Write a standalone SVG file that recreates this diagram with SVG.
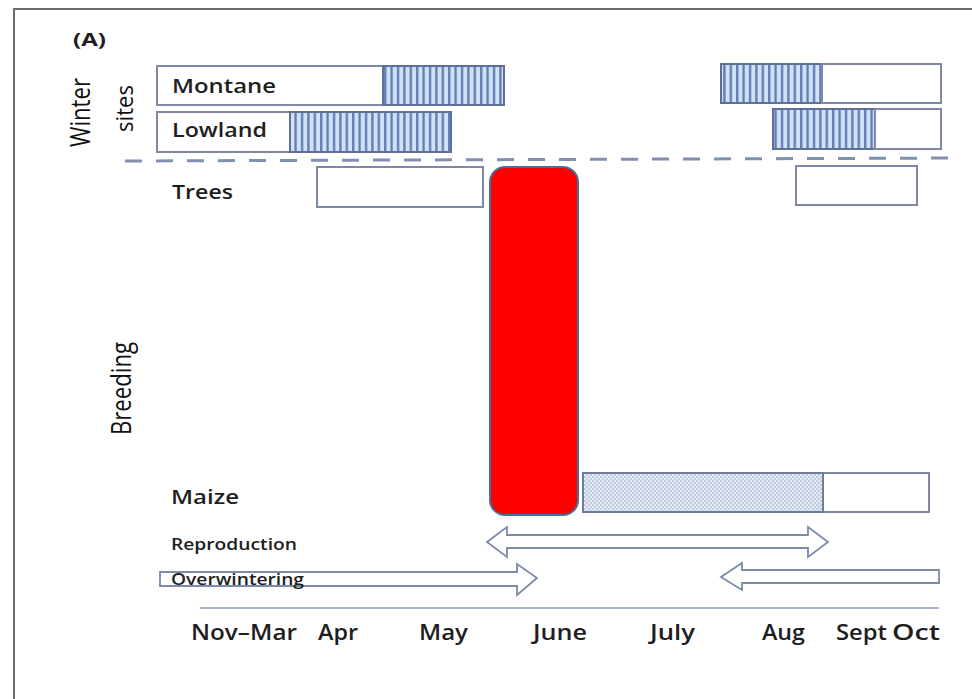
<svg xmlns="http://www.w3.org/2000/svg" width="972" height="699" viewBox="0 0 972 699">
<style>
.box{fill:#fff;stroke:#7f88a4;stroke-width:2}
.str{fill:url(#stripes);stroke:#5f6f98;stroke-width:2}
.dot{fill:url(#dots);stroke:#6f7c9c;stroke-width:2}
.arr{fill:#fff;stroke:#7d8aa8;stroke-width:1.8;stroke-linejoin:miter}
.lbl{font-family:"Open Sans","Liberation Sans",sans-serif;font-weight:600;fill:#1e1e1e}
.ttl{font-family:"Open Sans","Liberation Sans",sans-serif;font-weight:bold;fill:#1e1e1e}
.rot{font-family:"Open Sans","Liberation Sans",sans-serif;fill:#111;text-anchor:middle}
</style>
<defs>
<pattern id="stripes" patternUnits="userSpaceOnUse" width="6.4" height="10">
<rect width="6.4" height="10" fill="#d3e1f3"/>
<rect width="2.4" height="10" fill="#5f80b8"/>
</pattern>
<pattern id="dots" patternUnits="userSpaceOnUse" width="4" height="4">
<rect width="4" height="4" fill="#e2eaf5"/>
<circle cx="1" cy="1" r="0.7" fill="#8b98b6"/>
<circle cx="3" cy="3" r="0.7" fill="#8b98b6"/>
</pattern>
</defs>
<rect width="972" height="699" fill="#fff"/>
<rect x="14" y="9" width="990" height="730" fill="none" stroke="#6e6e6e" stroke-width="2"/>
<text class="ttl" x="73" y="46" font-size="17" textLength="33" lengthAdjust="spacingAndGlyphs">(A)</text>
<text class="rot" transform="translate(90,112.5) rotate(-90)" font-size="27" textLength="69" lengthAdjust="spacingAndGlyphs">Winter</text>
<text class="rot" transform="translate(133,108.5) rotate(-90)" font-size="23" textLength="47" lengthAdjust="spacingAndGlyphs">sites</text>
<text class="rot" transform="translate(131,388.5) rotate(-90)" font-size="28" textLength="93" lengthAdjust="spacingAndGlyphs">Breeding</text>

<g id="montane">
<rect class="box" x="157" y="66" width="347" height="39"/>
<rect class="str" x="383" y="66" width="121" height="39"/>
<rect class="str" x="721" y="64" width="101" height="39"/>
<rect class="box" x="822" y="64" width="119" height="39"/>
<text class="lbl" x="172" y="93" font-size="19" textLength="104" lengthAdjust="spacingAndGlyphs">Montane</text>
</g>
<g id="lowland">
<rect class="box" x="157" y="112" width="294" height="40"/>
<rect class="str" x="290" y="112" width="161" height="40"/>
<rect class="str" x="773" y="109" width="102" height="40"/>
<rect class="box" x="875" y="109" width="66" height="40"/>
<text class="lbl" x="172" y="137" font-size="19" textLength="95" lengthAdjust="spacingAndGlyphs">Lowland</text>
</g>
<line x1="125" y1="161" x2="962" y2="158" stroke="#8090b0" stroke-width="3" stroke-dasharray="17,14"/>
<g id="trees">
<rect class="box" x="317" y="167" width="166" height="40"/>
<rect class="box" x="796" y="166" width="121" height="39"/>
<text class="lbl" x="172" y="199" font-size="20" textLength="61" lengthAdjust="spacingAndGlyphs">Trees</text>
</g>
<g id="red-bar">
<rect x="490" y="167" width="88" height="348" rx="15" ry="15" fill="#ff0000" stroke="#41719c" stroke-width="2"/>
</g>
<g id="maize">
<rect class="box" x="583" y="473" width="346" height="39"/>
<rect class="dot" x="583" y="473" width="240" height="39"/>
<text class="lbl" x="171" y="504" font-size="19" textLength="68" lengthAdjust="spacingAndGlyphs">Maize</text>
</g>
<g id="connectors">
<polygon class="arr" points="487,542 507,527 507,535 808,535 808,527 828,542 808,557 808,548 507,548 507,557"/>
<polygon class="arr" points="160,572 517,572 517,564 537,578 517,595 517,586 160,586"/>
<polygon class="arr" points="721,577 742,563 742,570 939,570 939,583 742,583 742,590"/>
<line x1="200" y1="608" x2="939" y2="608" stroke="#8a9cc0" stroke-width="1.6"/>
</g>
<g id="labels">
<text class="lbl" x="171" y="550" font-size="17" textLength="126" lengthAdjust="spacingAndGlyphs">Reproduction</text>
<text class="lbl" x="171" y="585" font-size="17" textLength="133" lengthAdjust="spacingAndGlyphs">Overwintering</text>
<text class="lbl" x="191" y="640" font-size="21" textLength="106" lengthAdjust="spacingAndGlyphs">Nov–Mar</text>
<text class="lbl" x="318" y="640" font-size="21" textLength="40" lengthAdjust="spacingAndGlyphs">Apr</text>
<text class="lbl" x="419" y="640" font-size="21" textLength="49" lengthAdjust="spacingAndGlyphs">May</text>
<text class="lbl" x="533" y="640" font-size="21" textLength="54" lengthAdjust="spacingAndGlyphs">June</text>
<text class="lbl" x="650" y="640" font-size="21" textLength="45" lengthAdjust="spacingAndGlyphs">July</text>
<text class="lbl" x="762" y="640" font-size="21" textLength="43" lengthAdjust="spacingAndGlyphs">Aug</text>
<text class="lbl" x="836" y="640" font-size="21" textLength="51" lengthAdjust="spacingAndGlyphs">Sept</text>
<text class="lbl" x="892" y="640" font-size="21" textLength="48" lengthAdjust="spacingAndGlyphs">Oct</text>
</g>
</svg>
